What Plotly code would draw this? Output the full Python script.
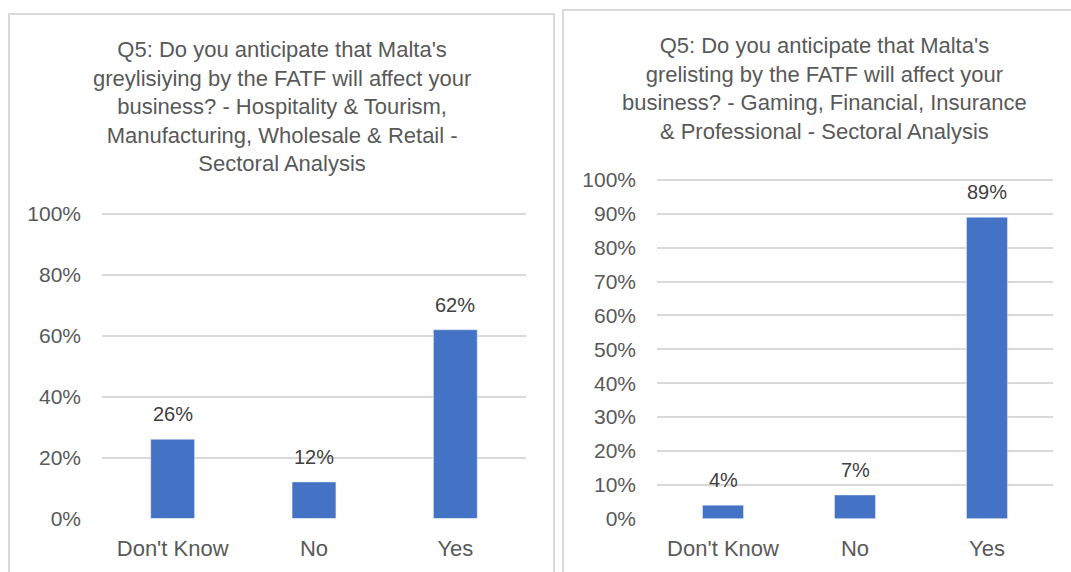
import plotly.graph_objects as go

W, H = 1071, 572

categories = ["Don't Know", "No", "Yes"]
hospitality_values = [0.26, 0.12, 0.62]
gaming_values = [0.04, 0.07, 0.89]

left_ticks = [0, 0.2, 0.4, 0.6, 0.8, 1.0]
right_ticks = [0, 0.1, 0.2, 0.3, 0.4, 0.5, 0.6, 0.7, 0.8, 0.9, 1.0]

left_title = ("Q5: Do you anticipate that Malta's<br>greylisiying by the FATF will affect your<br>"
              "business? - Hospitality & Tourism,<br>Manufacturing, Wholesale & Retail -<br>Sectoral Analysis")
right_title = ("Q5: Do you anticipate that Malta's<br>grelisting by the FATF will affect your<br>"
               "business? - Gaming, Financial, Insurance<br>& Professional - Sectoral Analysis")

BAR = "#4472C4"
GRID = "#d9d9d9"
AXIS_TXT = "#595959"
LABEL_TXT = "#404040"
FONT = "Liberation Sans, Arial, sans-serif"

Y_TOP = 1.01  # a little headroom so the 100% gridline is drawn


def px_x(p):
    return p / W


def px_y(p):
    return 1 - p / H


def y_domain(zero_px, hundred_px):
    top_px = zero_px - Y_TOP * (zero_px - hundred_px)
    return [px_y(zero_px), px_y(top_px)]


fig = go.Figure()

fig.add_trace(go.Bar(x=categories, y=hospitality_values, marker_color=BAR,
                     width=0.31, xaxis="x", yaxis="y", showlegend=False))
fig.add_trace(go.Bar(x=categories, y=gaming_values, marker_color=BAR,
                     width=0.31, xaxis="x2", yaxis="y2", showlegend=False))

annotations = []
for cat, v in zip(categories, hospitality_values):
    annotations.append(dict(x=cat, y=v, xref="x", yref="y", text=f"{round(v*100)}%",
                            showarrow=False, yanchor="middle", yshift=25,
                            font=dict(size=20, color=LABEL_TXT, family=FONT)))
for cat, v in zip(categories, gaming_values):
    annotations.append(dict(x=cat, y=v, xref="x2", yref="y2", text=f"{round(v*100)}%",
                            showarrow=False, yanchor="middle", yshift=25,
                            font=dict(size=20, color=LABEL_TXT, family=FONT)))

annotations.append(dict(x=px_x(282), y=px_y(35), xref="paper", yref="paper",
                        text=left_title, showarrow=False, xanchor="center", yanchor="top",
                        align="center", font=dict(size=22, color=AXIS_TXT, family=FONT)))
annotations.append(dict(x=px_x(824), y=px_y(31), xref="paper", yref="paper",
                        text=right_title, showarrow=False, xanchor="center", yanchor="top",
                        align="center", font=dict(size=22, color=AXIS_TXT, family=FONT)))

shapes = [
    dict(type="rect", xref="paper", yref="paper",
         x0=px_x(9), x1=px_x(554), y0=-0.05, y1=px_y(14),
         line=dict(color=GRID, width=2), fillcolor="rgba(0,0,0,0)", layer="below"),
    dict(type="rect", xref="paper", yref="paper",
         x0=px_x(563), x1=1.05, y0=-0.05, y1=px_y(10),
         line=dict(color=GRID, width=2), fillcolor="rgba(0,0,0,0)", layer="below"),
]

xaxis_common = dict(showgrid=False, zeroline=False, showline=False, ticks="",
                    automargin=False,
                    tickfont=dict(size=22, color=AXIS_TXT, family=FONT),
                    ticklabelstandoff=14, fixedrange=True)
yaxis_common = dict(range=[0, Y_TOP], tickformat=".0%", showgrid=True, gridcolor=GRID,
                    gridwidth=2, zeroline=False, showline=False, ticks="",
                    automargin=False,
                    tickfont=dict(size=21, color=AXIS_TXT, family=FONT),
                    ticklabelstandoff=20, fixedrange=True)

fig.update_layout(
    width=W, height=H,
    margin=dict(l=0, r=0, t=0, b=0, autoexpand=False),
    paper_bgcolor="white", plot_bgcolor="white",
    xaxis=dict(domain=[px_x(102), px_x(526)], anchor="y", **xaxis_common),
    yaxis=dict(domain=y_domain(518.5, 214), anchor="x", tickvals=left_ticks, **yaxis_common),
    xaxis2=dict(domain=[px_x(657), px_x(1053)], anchor="y2", **xaxis_common),
    yaxis2=dict(domain=y_domain(518.7, 180), anchor="x2", tickvals=right_ticks, **yaxis_common),
    annotations=annotations,
    shapes=shapes,
    bargap=0.69,
)

fig.write_html("out.html")
